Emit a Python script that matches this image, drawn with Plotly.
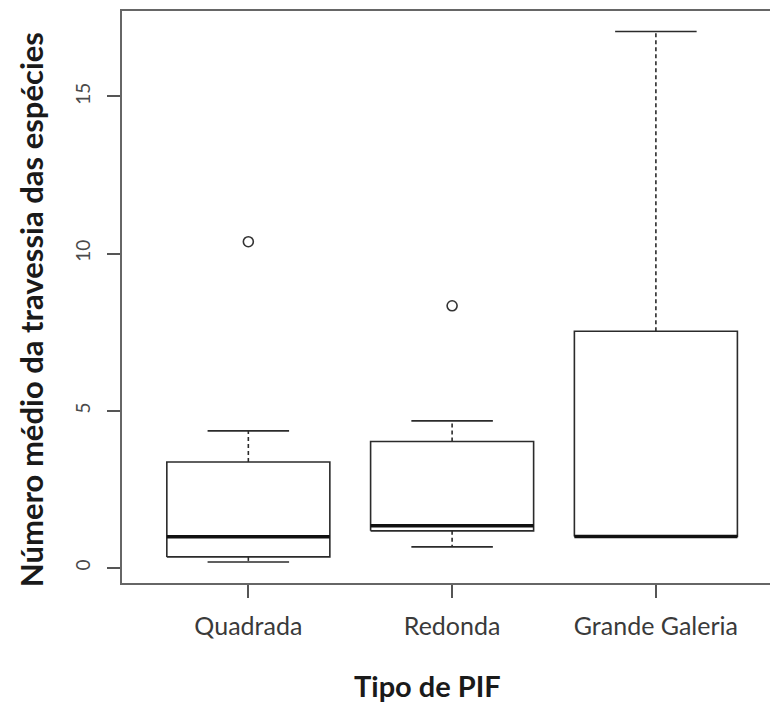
import plotly.graph_objects as go

categories = ["Quadrada", "Redonda", "Grande Galeria"]
lower_whisker = [0.19, 0.67, 1.0]
q1 = [0.35, 1.18, 1.0]
median = [0.99, 1.34, 1.0]
q3 = [3.37, 4.02, 7.53]
upper_whisker = [4.36, 4.68, 17.07]
outliers = [[10.38], [8.34], []]
y_ticks = [0, 5, 10, 15]

positions = list(range(1, len(categories) + 1))
BOX_HALF = 0.4
CAP_HALF = 0.2
LINE = "#2b2b2b"

fig = go.Figure()
for p, lo, a, m, b, hi, outs in zip(positions, lower_whisker, q1, median, q3, upper_whisker, outliers):
    # dashed whiskers
    fig.add_trace(go.Scatter(
        x=[p, p, None, p, p], y=[b, hi, None, a, lo], mode="lines",
        line=dict(color=LINE, width=1.6, dash="4px,3px"), hoverinfo="skip", showlegend=False))
    # caps
    fig.add_trace(go.Scatter(
        x=[p - CAP_HALF, p + CAP_HALF, None, p - CAP_HALF, p + CAP_HALF],
        y=[hi, hi, None, lo, lo], mode="lines",
        line=dict(color=LINE, width=1.6), hoverinfo="skip", showlegend=False))
    # box
    fig.add_trace(go.Scatter(
        x=[p - BOX_HALF, p + BOX_HALF, p + BOX_HALF, p - BOX_HALF, p - BOX_HALF],
        y=[a, a, b, b, a], mode="lines", fill="toself", fillcolor="white",
        line=dict(color=LINE, width=1.6), hoverinfo="skip", showlegend=False))
    # median
    fig.add_trace(go.Scatter(
        x=[p - BOX_HALF, p + BOX_HALF], y=[m, m], mode="lines",
        line=dict(color="#111111", width=3.5), hoverinfo="skip", showlegend=False))
    # outliers
    if outs:
        fig.add_trace(go.Scatter(
            x=[p] * len(outs), y=outs, mode="markers",
            marker=dict(symbol="circle-open", size=10, color="#333333", line=dict(width=1.6)),
            showlegend=False))

fig.update_layout(
    width=770, height=704,
    margin=dict(l=122, r=0, t=11, b=121),
    plot_bgcolor="white", paper_bgcolor="white",
    font=dict(family="Lato", color="#333333"),
    annotations=[
        dict(text="<b>Tipo de PIF</b>", xref="paper", yref="paper",
             x=0.472, y=0, yshift=-102, xanchor="center", yanchor="middle", showarrow=False,
             font=dict(size=29, color="#1a1a1a")),
        dict(text="<b>Número médio da travessia das espécies</b>", xref="paper", yref="paper",
             x=0, xshift=-91, y=0.477, xanchor="center", yanchor="middle", textangle=-90,
             showarrow=False, font=dict(size=31, color="#1a1a1a")),
    ],
)
fig.update_xaxes(
    range=[0.38, 3.56], tickmode="array", tickvals=positions, ticktext=categories,
    showgrid=False, zeroline=False, showline=True, mirror=True,
    linecolor="#666666", linewidth=2,
    ticks="outside", ticklen=13, tickwidth=2, tickcolor="#555555",
    tickfont=dict(size=25, color="#3a3a3a"), ticklabelstandoff=7,
)
fig.update_yaxes(
    range=[-0.48, 17.72], tickmode="array", tickvals=y_ticks, ticktext=[str(t) for t in y_ticks],
    showgrid=False, zeroline=False, showline=True, mirror=False,
    linecolor="#666666", linewidth=2,
    ticks="outside", ticklen=13, tickwidth=2, tickcolor="#555555",
    tickangle=-90, tickfont=dict(size=19, color="#4a4a4a"), ticklabelstandoff=9,
)

fig.write_html("out.html")
